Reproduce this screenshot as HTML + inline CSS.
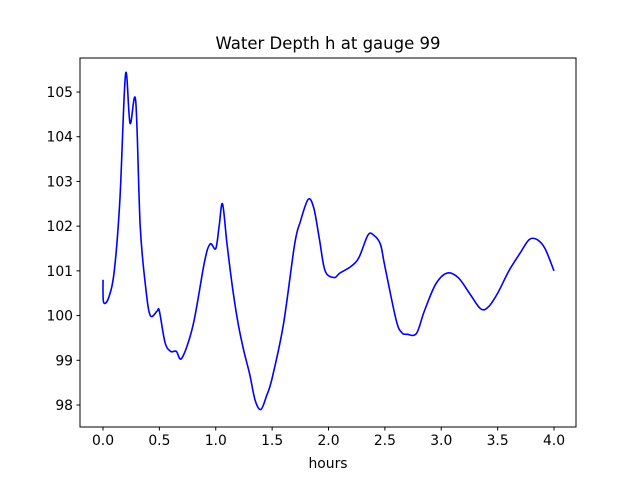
<!DOCTYPE html>
<html><head><meta charset="utf-8"><style>
body{margin:0;background:#fff;}
svg text{font-family:"DejaVu Sans","Liberation Sans",sans-serif;fill:#000;}
</style></head><body>
<svg width="640" height="480">
<rect width="640" height="480" fill="#fff"/>
<text x="328" y="49" text-anchor="middle" font-size="16.5">Water Depth h at gauge 99</text>
<g id="ticks"></g>
<path id="line" fill="none" stroke="#0000ff" stroke-width="1.6"/>
<rect x="80" y="58" width="496" height="369" fill="none" stroke="#000" stroke-width="1"/>
<text x="328" y="468" text-anchor="middle" font-size="13.9">hours</text>
</svg>
<script>
const hours=[0,0.005,0.05,0.1,0.15,0.2,0.24,0.29,0.33,0.38,0.42,0.48,0.5,0.55,0.6,0.65,0.7,0.8,0.9,0.95,1.0,1.03,1.06,1.1,1.15,1.2,1.25,1.3,1.35,1.4,1.45,1.5,1.6,1.7,1.75,1.82,1.87,1.92,1.97,2.05,2.1,2.2,2.27,2.35,2.4,2.46,2.5,2.6,2.65,2.7,2.78,2.85,2.95,3.05,3.15,3.25,3.35,3.42,3.5,3.6,3.7,3.78,3.85,3.92,4.0];
const depth=[100.8,100.3,100.4,101.0,102.6,105.4,104.3,104.8,102.0,100.6,100.0,100.1,100.1,99.4,99.2,99.2,99.05,99.8,101.2,101.6,101.5,102.0,102.5,101.6,100.6,99.8,99.2,98.7,98.1,97.9,98.2,98.6,99.8,101.6,102.1,102.6,102.4,101.7,101.0,100.85,100.95,101.1,101.3,101.8,101.8,101.6,101.1,99.9,99.62,99.58,99.6,100.1,100.7,100.95,100.85,100.5,100.15,100.2,100.5,101.0,101.4,101.7,101.7,101.5,101.0];
const xTicks=[0,0.5,1,1.5,2,2.5,3,3.5,4];
const xTickLabels=["0.0","0.5","1.0","1.5","2.0","2.5","3.0","3.5","4.0"];
const yTicks=[98,99,100,101,102,103,104,105];
const X=v=>103+v*112.75;
const Y=v=>405-(v-98)*44.71;
const NS="http://www.w3.org/2000/svg";
const g=document.getElementById('ticks');
function add(tag,attrs,txt){const e=document.createElementNS(NS,tag);for(const k in attrs)e.setAttribute(k,attrs[k]);if(txt!==undefined)e.textContent=txt;g.appendChild(e);return e;}
xTicks.forEach((t,i)=>{
 const l=add('line',{x1:X(t),x2:X(t),y1:427,y2:430.5,stroke:'#000'});
 
 
 const tx=add('text',{x:X(t),y:445,'text-anchor':'middle','font-size':'13.9'},xTickLabels[i]);
 
 
});
yTicks.forEach(t=>{
 const l=add('line',{x1:76.5,x2:80,y1:Y(t),y2:Y(t),stroke:'#000'});
 
 
 const tx=add('text',{x:73,y:Y(t)+5,'text-anchor':'end','font-size':'13.9'},String(t));
 
 
});
const P=hours.map((h,i)=>[X(h),Y(depth[i])]);
let d=`M${P[0][0]},${P[0][1]}`;
for(let i=0;i<P.length-1;i++){
 const p0=P[Math.max(i-1,0)],p1=P[i],p2=P[i+1],p3=P[Math.min(i+2,P.length-1)];
 const c1=[p1[0]+(p2[0]-p0[0])/6,p1[1]+(p2[1]-p0[1])/6];
 const c2=[p2[0]-(p3[0]-p1[0])/6,p2[1]-(p3[1]-p1[1])/6];
 d+=` C${c1[0]},${c1[1]} ${c2[0]},${c2[1]} ${p2[0]},${p2[1]}`;
}
document.getElementById('line').setAttribute('d',d);
</script>
</body></html>
